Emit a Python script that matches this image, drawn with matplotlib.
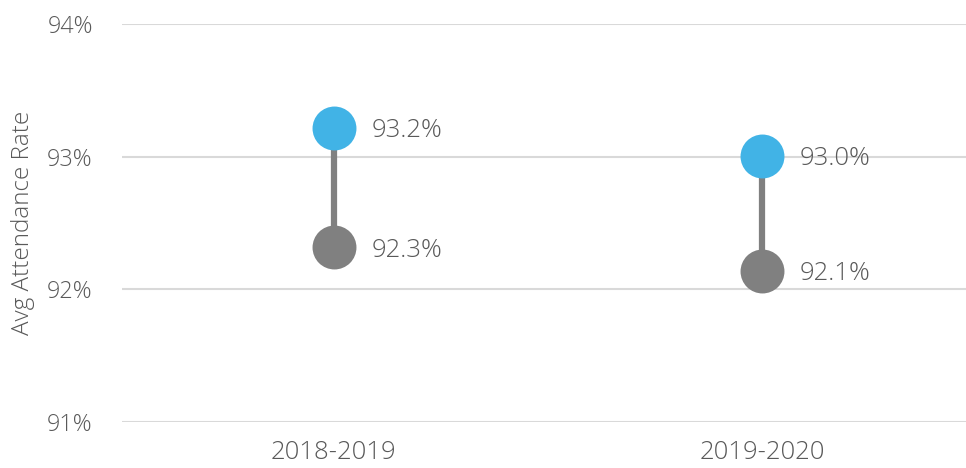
import matplotlib.pyplot as plt

years = ['2018-2019', '2019-2020']
top_vals = [93.22, 93.01]
bottom_vals = [92.32, 92.14]
yticks = [91, 92, 93, 94]

blue = '#41b3e6'
grey = '#808080'
txt = '#595959'

plt.rcParams['font.family'] = ['Open Sans', 'DejaVu Sans']
plt.rcParams['font.weight'] = 'light'

fig = plt.figure(figsize=(9.66, 4.68), dpi=100)
ax = fig.add_axes([122/966, 1-422/468, 844/966, (422-24.3)/468])

x = list(range(len(years)))
ax.vlines(x, bottom_vals, top_vals, color=grey, lw=4.5, zorder=2)
ax.scatter(x, top_vals, s=1000, color=blue, zorder=3, linewidths=0)
ax.scatter(x, bottom_vals, s=1000, color=grey, zorder=3, linewidths=0)

for i in x:
    ax.annotate('%.1f%%' % top_vals[i], (i, top_vals[i]), xytext=(38, -3),
                textcoords='offset pixels', va='center', ha='left',
                fontsize=18.5, color=txt, weight='light')
    ax.annotate('%.1f%%' % bottom_vals[i], (i, bottom_vals[i]), xytext=(38, -3),
                textcoords='offset pixels', va='center', ha='left',
                fontsize=18.5, color=txt, weight='light')

ax.set_ylim(91, 94)
ax.set_xlim(-0.495, 1.477)
ax.set_yticks(yticks)
ax.set_yticklabels(['%d%%' % v for v in yticks])
ax.set_xticks(x)
ax.set_xticklabels(years)
ax.tick_params(axis='y', length=0, pad=21, labelsize=16.8, labelcolor=txt)
ax.tick_params(axis='x', length=0, pad=13, labelsize=18.5, labelcolor=txt)
ax.grid(axis='y', color='#d9d9d9', lw=1.5)
ax.set_axisbelow(True)
for s in ax.spines.values():
    s.set_visible(False)

fig.text(23/966, 1-223/468, 'Avg Attendance Rate', rotation=90, ha='center', va='center',
         fontsize=17.5, color=txt, weight='light')

plt.savefig('out.png', dpi=100)
